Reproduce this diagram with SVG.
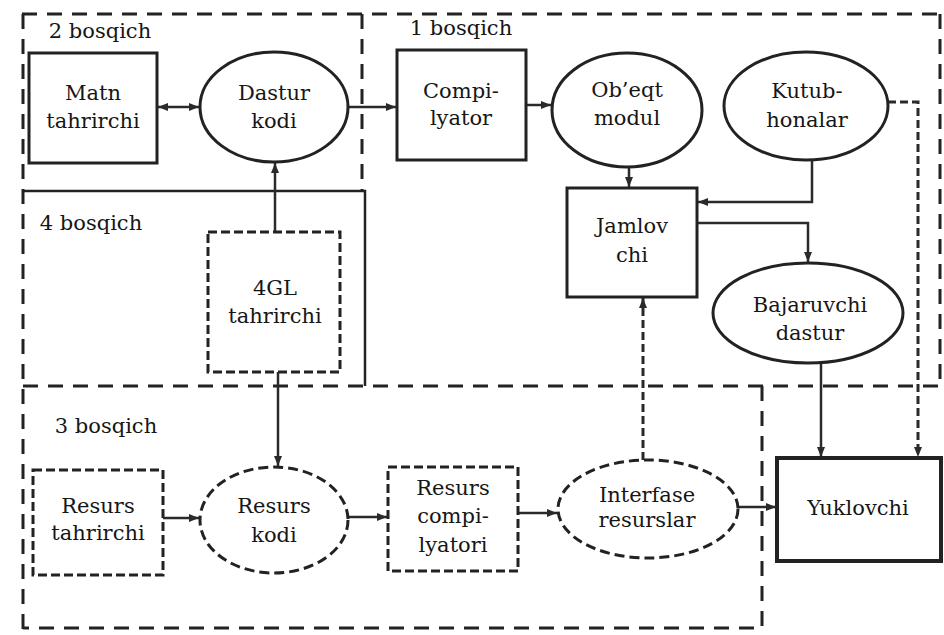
<svg xmlns="http://www.w3.org/2000/svg" width="944" height="635" viewBox="0 0 944 635">
  <defs>
    <marker id="arr" viewBox="0 0 10 8" refX="10" refY="4" markerWidth="10" markerHeight="8" markerUnits="userSpaceOnUse" orient="auto-start-reverse">
      <path d="M0,0 L10,4 L0,8 Z" fill="#2a2a2a"/>
    </marker>
    <style>
      .region { fill: none; stroke: #222; stroke-width: 3; stroke-dasharray: 15 10; }
      .border { fill: none; stroke: #222; stroke-width: 2.5; }
      .box { fill: #fff; stroke: #222; stroke-width: 3; }
      .box-thick { fill: #fff; stroke: #222; stroke-width: 4; }
      .dbox { fill: #fff; stroke: #222; stroke-width: 3; stroke-dasharray: 9 4; }
      .dell { fill: #fff; stroke: #222; stroke-width: 3; stroke-dasharray: 10 5; }
      .link { fill: none; stroke: #2a2a2a; stroke-width: 2.5; }
      .dlink { fill: none; stroke: #2a2a2a; stroke-width: 3; stroke-dasharray: 8 4; }
      .lbl { font-family: 'DejaVu Serif', 'Liberation Serif', serif; font-size: 21px; fill: #161616; text-anchor: middle; }
    </style>
  </defs>

  <rect width="944" height="635" fill="#fff"/>

  <!-- stage regions -->
  <g id="regions">
    <path class="region" d="M22,14 H940"/>
    <path class="region" d="M23,14 V629"/>
    <path class="region" d="M940,14 V386"/>
    <path class="region" d="M362,14 V190"/>
    <path class="region" d="M23,386 H940"/>
    <path class="region" d="M762,386 V628 H23"/>
    <path class="border" d="M23,191 H365 V386"/>
    <text class="lbl" x="100" y="38">2 bosqich</text>
    <text class="lbl" x="461" y="35">1 bosqich</text>
    <text class="lbl" x="91" y="230">4 bosqich</text>
    <text class="lbl" x="106" y="433">3 bosqich</text>
  </g>

  <!-- connectors -->
  <g id="connectors">
    <path class="link" d="M158,107 H199" marker-start="url(#arr)" marker-end="url(#arr)"/>
    <path class="link" d="M348,107 H396" marker-end="url(#arr)"/>
    <path class="link" d="M526,105 H551" marker-end="url(#arr)"/>
    <path class="link" d="M629,167 V187" marker-end="url(#arr)"/>
    <path class="link" d="M812,160 V202 H698" marker-end="url(#arr)"/>
    <path class="link" d="M697,223 H808 V262" marker-end="url(#arr)"/>
    <path class="dlink" d="M888,102 H918 V457" marker-end="url(#arr)"/>
    <path class="link" d="M821,363 V457" marker-end="url(#arr)"/>
    <path class="link" d="M275,232 V163" marker-end="url(#arr)"/>
    <path class="link" d="M278,372 V466" marker-end="url(#arr)"/>
    <path class="link" d="M163,518 H199" marker-end="url(#arr)"/>
    <path class="link" d="M348,517 H387" marker-end="url(#arr)"/>
    <path class="link" d="M518,513 H557" marker-end="url(#arr)"/>
    <path class="dlink" d="M643,460 V298" marker-end="url(#arr)"/>
    <path class="link" d="M738,507 H776" marker-end="url(#arr)"/>
  </g>

  <!-- stage 2 -->
  <g id="matn-tahrirchi">
    <rect class="box" x="29" y="53" width="128" height="110"/>
    <text class="lbl" x="93" y="100">Matn</text>
    <text class="lbl" x="93" y="128">tahrirchi</text>
  </g>
  <g id="dastur-kodi">
    <ellipse class="box" cx="274" cy="107" rx="74" ry="55"/>
    <text class="lbl" x="274" y="100">Dastur</text>
    <text class="lbl" x="274" y="128">kodi</text>
  </g>

  <!-- stage 1 -->
  <g id="compilyator">
    <rect class="box" x="397" y="50" width="129" height="110"/>
    <text class="lbl" x="461" y="98">Compi-</text>
    <text class="lbl" x="461" y="125">lyator</text>
  </g>
  <g id="obeqt-modul">
    <ellipse class="box" cx="627" cy="110" rx="75" ry="57"/>
    <text class="lbl" x="627" y="97">Ob’eqt</text>
    <text class="lbl" x="627" y="125">modul</text>
  </g>
  <g id="kutubhonalar">
    <ellipse class="box" cx="806" cy="106" rx="82" ry="54"/>
    <text class="lbl" x="807" y="98">Kutub-</text>
    <text class="lbl" x="807" y="127">honalar</text>
  </g>
  <g id="jamlovchi">
    <rect class="box" x="567" y="188" width="130" height="109"/>
    <text class="lbl" x="632" y="233">Jamlov</text>
    <text class="lbl" x="632" y="262">chi</text>
  </g>
  <g id="bajaruvchi-dastur">
    <ellipse class="box" cx="808" cy="313" rx="95" ry="50"/>
    <text class="lbl" x="810" y="312">Bajaruvchi</text>
    <text class="lbl" x="810" y="340">dastur</text>
  </g>

  <!-- stage 4 -->
  <g id="gl4-tahrirchi">
    <rect class="dbox" x="208" y="232" width="132" height="140"/>
    <text class="lbl" x="275" y="295">4GL</text>
    <text class="lbl" x="275" y="323">tahrirchi</text>
  </g>

  <!-- stage 3 -->
  <g id="resurs-tahrirchi">
    <rect class="dbox" x="33" y="470" width="130" height="105"/>
    <text class="lbl" x="98" y="513">Resurs</text>
    <text class="lbl" x="98" y="540">tahrirchi</text>
  </g>
  <g id="resurs-kodi">
    <ellipse class="dell" cx="274" cy="520" rx="74" ry="53"/>
    <text class="lbl" x="274" y="513">Resurs</text>
    <text class="lbl" x="274" y="542">kodi</text>
  </g>
  <g id="resurs-compilyatori">
    <rect class="dbox" x="388" y="467" width="130" height="104"/>
    <text class="lbl" x="453" y="495">Resurs</text>
    <text class="lbl" x="453" y="523">compi-</text>
    <text class="lbl" x="453" y="552">lyatori</text>
  </g>
  <g id="interfase-resurslar">
    <ellipse class="dell" cx="648" cy="509" rx="90" ry="49"/>
    <text class="lbl" x="647" y="502">Interfase</text>
    <text class="lbl" x="647" y="527">resurslar</text>
  </g>

  <!-- loader -->
  <g id="yuklovchi">
    <rect class="box-thick" x="777" y="458" width="164" height="103"/>
    <text class="lbl" x="858" y="515">Yuklovchi</text>
  </g>
</svg>
